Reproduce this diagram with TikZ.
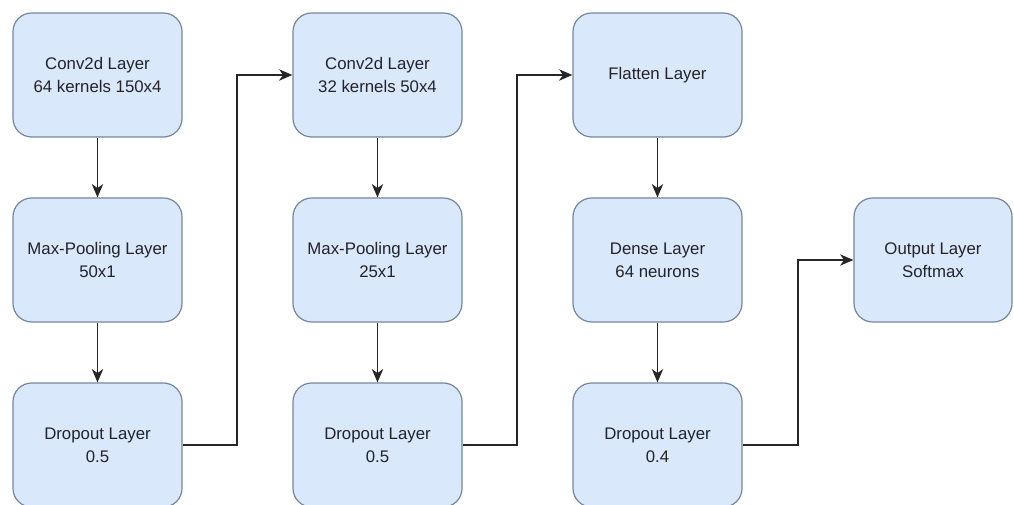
\documentclass[tikz,border=0pt]{standalone}
\usepackage{fontspec}
\setmainfont{Liberation Sans}
\usetikzlibrary{arrows.meta}
\definecolor{boxfill}{RGB}{218,232,252}
\definecolor{boxline}{RGB}{118,134,156}
\definecolor{textcol}{RGB}{35,35,40}
\tikzset{
  layer/.style={draw=boxline, fill=boxfill, line width=0.9pt,
    rounded corners=14pt, minimum width=126.75pt, minimum height=93pt,
    inner sep=0pt, align=center, text=textcol,
    font=\fontsize{12.6pt}{17.25pt}\selectfont},
  flow/.style={draw=black!85, line width=1pt, -{Stealth[length=10pt,width=8.5pt,inset=3pt]}}
}
\begin{document}
\begin{tikzpicture}[x=0.75pt,y=-0.75pt]
  \useasboundingbox (0,0) rectangle (1014,505);
  \fill[white] (0,0) rectangle (1014,505);
  \clip (0,0) rectangle (1014,505);

  % first column
  \node[layer] (conv1) at (97.5,75)  {Conv2d Layer\\64 kernels 150x4};
  \node[layer] (pool1) at (97.5,260) {Max-Pooling Layer\\50x1};
  \node[layer] (drop1) at (97.5,445) {Dropout Layer\\0.5};
  % second column
  \node[layer] (conv2) at (377.5,75)  {Conv2d Layer\\32 kernels 50x4};
  \node[layer] (pool2) at (377.5,260) {Max-Pooling Layer\\25x1};
  \node[layer] (drop2) at (377.5,445) {Dropout Layer\\0.5};
  % third column
  \node[layer] (flat)  at (657.5,75)  {Flatten Layer};
  \node[layer] (dense) at (657.5,260) {Dense Layer\\64 neurons};
  \node[layer] (drop3) at (657.5,445) {Dropout Layer\\0.4};
  % output
  \node[layer, minimum width=118.5pt] (out) at (933,260) {Output Layer\\Softmax};

  % vertical links within each column
  \draw[flow] (conv1) -- (pool1);
  \draw[flow] (pool1) -- (drop1);
  \draw[flow] (conv2) -- (pool2);
  \draw[flow] (pool2) -- (drop2);
  \draw[flow] (flat) -- (dense);
  \draw[flow] (dense) -- (drop3);

  % links between columns
  \draw[flow] (drop1.east) -- (237,445) -- (237,75) -- (conv2.west);
  \draw[flow] (drop2.east) -- (517,445) -- (517,75) -- (flat.west);
  \draw[flow] (drop3.east) -- (798,445) -- (798,260) -- (out.west);
\end{tikzpicture}
\end{document}
